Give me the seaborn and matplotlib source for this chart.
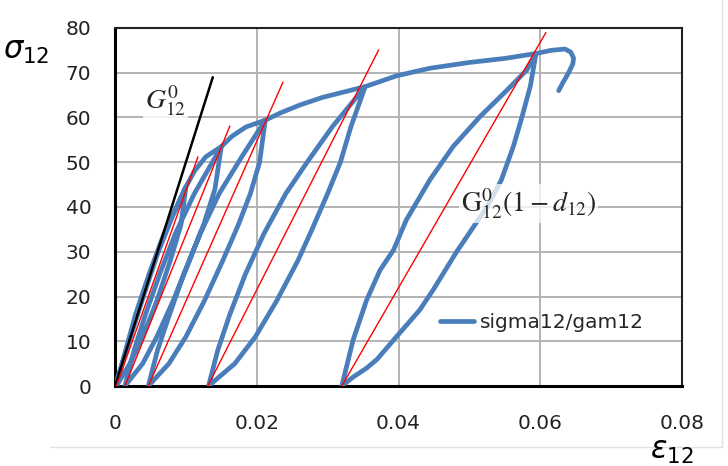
import numpy as np
import pandas as pd
import matplotlib
matplotlib.use("Agg")
import matplotlib.pyplot as plt
from matplotlib.lines import Line2D
import seaborn as sns

# ---------------- data ----------------
# envelope segments and hysteresis loops (strain, stress)
env0_x = [0.0, 0.002, 0.004, 0.006, 0.008, 0.0100]
env0_y = [0.0, 10.0, 20.0, 29.5, 37.5, 44.5]
loop1_unload_x = [0.0100, 0.0093, 0.0078, 0.0059, 0.0039, 0.0021, 0.0002]
loop1_unload_y = [44.5, 36.0, 28.0, 19.0, 11.0, 5.0, 0.0]
loop1_reload_x = [0.0002, 0.0015, 0.0029, 0.0048, 0.0069, 0.0100]
loop1_reload_y = [0.0, 8.0, 16.0, 25.0, 34.0, 44.5]
env1_x = [0.0100, 0.0112, 0.0128, 0.0150]
env1_y = [44.5, 48.0, 51.2, 53.5]
loop2_unload_x = [0.0150, 0.0141, 0.0125, 0.0105, 0.0082, 0.0059, 0.0039, 0.0014]
loop2_unload_y = [53.5, 44.0, 36.0, 28.0, 19.0, 11.0, 5.0, 0.0]
loop2_reload_x = [0.0014, 0.0027, 0.0043, 0.0063, 0.0085, 0.0112, 0.0150]
loop2_reload_y = [0.0, 8.0, 16.0, 25.0, 34.0, 43.0, 53.5]
env2_x = [0.0150, 0.0165, 0.0185, 0.0212]
env2_y = [53.5, 55.8, 57.9, 59.4]
loop3_unload_x = [0.0212, 0.0204, 0.0191, 0.0174, 0.0152, 0.0126, 0.0100, 0.0076, 0.0047]
loop3_unload_y = [59.4, 50.0, 43.0, 36.0, 28.0, 19.0, 11.0, 5.0, 0.0]
loop3_reload_x = [0.0047, 0.0060, 0.0077, 0.0097, 0.0120, 0.0147, 0.0178, 0.0212]
loop3_reload_y = [0.0, 8.0, 16.0, 25.0, 34.0, 43.0, 51.0, 59.4]
env3_x = [0.0212, 0.0233, 0.0261, 0.0293, 0.0353]
env3_y = [59.4, 61.0, 62.8, 64.5, 66.9]
loop4_unload_x = [0.0353, 0.0333, 0.0318, 0.0300, 0.0278, 0.0258, 0.0228, 0.0198, 0.0169, 0.0132]
loop4_unload_y = [66.9, 58.0, 50.0, 43.0, 35.0, 28.0, 19.0, 11.0, 5.0, 0.0]
loop4_reload_x = [0.0132, 0.0145, 0.0162, 0.0184, 0.0210, 0.0241, 0.0271, 0.0307, 0.0353]
loop4_reload_y = [0.0, 8.0, 16.0, 25.0, 34.0, 43.0, 50.0, 58.0, 66.9]
env4_x = [0.0353, 0.0397, 0.0444, 0.0500, 0.0550, 0.0594]
env4_y = [66.9, 69.3, 71.0, 72.3, 73.2, 74.3]
loop5_unload_x = [0.0594, 0.0586, 0.0574, 0.0562, 0.0545, 0.0525, 0.0506, 0.0482,
                  0.0449, 0.0430, 0.0397, 0.0370, 0.0355, 0.0336, 0.0320]
loop5_unload_y = [74.3, 67.0, 60.0, 53.5, 46.0, 40.0, 35.6, 30.0,
                  21.5, 17.0, 11.0, 6.0, 4.0, 2.0, 0.0]
loop5_reload_x = [0.0320, 0.0336, 0.0355, 0.0374, 0.0393, 0.0411, 0.0444, 0.0477,
                  0.0515, 0.0553, 0.0581, 0.0594]
loop5_reload_y = [0.0, 10.3, 19.2, 25.9, 30.4, 37.1, 46.0, 53.5,
                  60.2, 66.1, 70.6, 74.3]
env5_x = [0.0594, 0.0615, 0.0635, 0.0643, 0.0647, 0.0646, 0.0640, 0.0632, 0.0626]
env5_y = [74.3, 75.0, 75.3, 74.6, 73.3, 72.0, 70.0, 67.8, 66.0]

# secant lines
g0_x = [0.0, 0.0138]
g0_y = [0.0, 69.0]
red_x0 = [0.0002, 0.0014, 0.0047, 0.0131, 0.0320]
red_x1 = [0.0117, 0.0162, 0.0237, 0.0372, 0.0608]
red_y1 = [51.2, 58.1, 67.9, 75.1, 79.0]

x_ticks = [0, 0.02, 0.04, 0.06, 0.08]
x_tick_labels = ["0", "0.02", "0.04", "0.06", "0.08"]
y_ticks = [0, 10, 20, 30, 40, 50, 60, 70, 80]
series_label = "sigma12/gam12"

# ---------------- figure ----------------
sns.set_theme(style="white")
plt.rcParams["font.family"] = ["DejaVu Sans"]

W, H = 728, 466
fig = plt.figure(figsize=(W / 100, H / 100), dpi=100)
ax = fig.add_axes([115 / W, 1 - 386 / H, (682 - 115) / W, (386 - 28) / H])

segments = [
    (env0_x, env0_y), (loop1_unload_x, loop1_unload_y), (loop1_reload_x, loop1_reload_y),
    (env1_x, env1_y), (loop2_unload_x, loop2_unload_y), (loop2_reload_x, loop2_reload_y),
    (env2_x, env2_y), (loop3_unload_x, loop3_unload_y), (loop3_reload_x, loop3_reload_y),
    (env3_x, env3_y), (loop4_unload_x, loop4_unload_y), (loop4_reload_x, loop4_reload_y),
    (env4_x, env4_y), (loop5_unload_x, loop5_unload_y), (loop5_reload_x, loop5_reload_y),
    (env5_x, env5_y),
]
cx, cy = [], []
for sx, sy in segments:
    cx.extend(sx)
    cy.extend(sy)
curve = pd.DataFrame({"strain": cx, "stress": cy})

blue = "#4a7ebb"
sns.lineplot(data=curve, x="strain", y="stress", sort=False, estimator=None,
             color=blue, lw=3.4, ax=ax, label=series_label, zorder=3,
             solid_joinstyle="round", solid_capstyle="round")

sns.lineplot(x=g0_x, y=g0_y, sort=False, estimator=None, color="black", lw=1.8,
             ax=ax, zorder=4, legend=False)
for x0, x1, y1 in zip(red_x0, red_x1, red_y1):
    sns.lineplot(x=[x0, x1], y=[0, y1], sort=False, estimator=None, color="#ff0000",
                 lw=1.0, ax=ax, zorder=5, legend=False)

ax.set_xlim(0, 0.08)
ax.set_ylim(0, 80)
ax.set_xticks(x_ticks)
ax.set_xticklabels(x_tick_labels)
ax.set_yticks(y_ticks)
ax.set_xlabel("")
ax.set_ylabel("")
ax.grid(True, color="#b3b3b3", lw=1.4, zorder=0)
ax.set_axisbelow(True)
for s in ["left", "bottom"]:
    ax.spines[s].set_color("black")
    ax.spines[s].set_linewidth(2.2)
for s in ["top", "right"]:
    ax.spines[s].set_color("#222222")
    ax.spines[s].set_linewidth(1.5)
ax.tick_params(axis="both", direction="out", length=6, width=1.5, color="black",
               labelsize=14.5, labelcolor="#222222")
ax.tick_params(axis="y", pad=11)
ax.tick_params(axis="x", pad=14)

leg = ax.legend(loc="center left", bbox_to_anchor=((440 - 115) / 567, (386 - 323) / 358),
                frameon=False, fontsize=14.5, handlelength=1.7, handletextpad=0.3,
                borderaxespad=0, borderpad=0)
for h in leg.get_lines():
    h.set_linewidth(3.4)

ax.text(0.0042, 63.8, r"$G_{12}^{0}$", math_fontfamily="stix", fontsize=20,
        ha="left", va="center", zorder=6,
        bbox=dict(facecolor="white", edgecolor="none", alpha=0.85, pad=1.5))
ax.text(0.0488, 40.8, r"$\mathrm{G}_{12}^{0}(1-d_{12})$", math_fontfamily="stix",
        fontsize=20, ha="left", va="center", zorder=6,
        bbox=dict(facecolor="white", edgecolor="none", alpha=0.75, pad=1.5))

fig.text(3 / W, 1 - 52 / H, r"$\sigma_{\mathit{12}}$", math_fontfamily="dejavusans",
         fontsize=22, ha="left", va="center", color="black")
fig.text(650 / W, 1 - 452 / H, r"$\varepsilon_{\mathit{12}}$", math_fontfamily="dejavusans",
         fontsize=22, ha="left", va="center", color="black")

fig.add_artist(Line2D([722 / W, 722 / W], [1 - 447 / H, 1.0], color="#e2e2e2", lw=1))
fig.add_artist(Line2D([50 / W, 722 / W], [1 - 447 / H, 1 - 447 / H], color="#e2e2e2", lw=1))

fig.savefig("out.png", dpi=100)
